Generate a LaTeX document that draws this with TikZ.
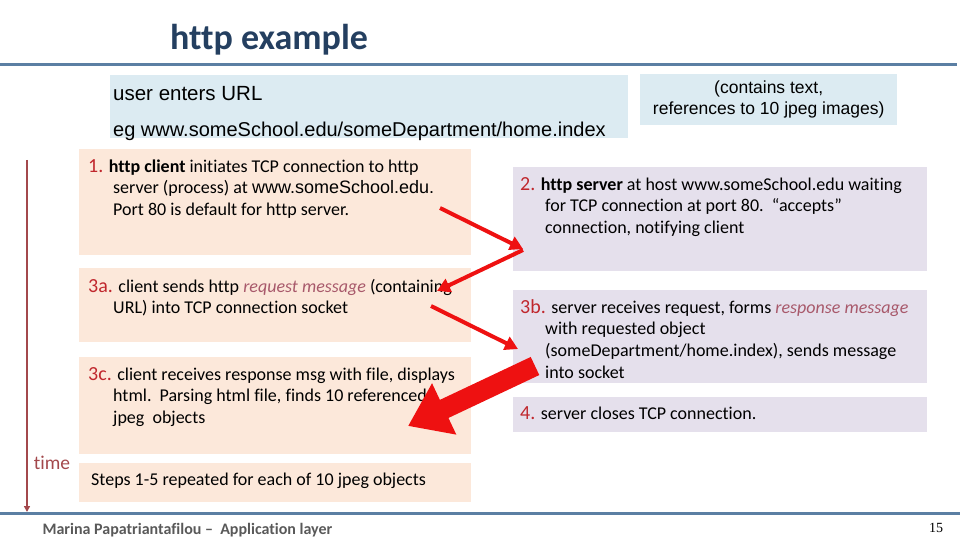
\documentclass[tikz,border=0pt]{standalone}
\usepackage{fontspec}
\setmainfont[Ligatures={NoCommon}]{Carlito}
\newfontfamily\arialfont{Liberation Sans}
\newfontfamily\timesfont{Liberation Serif}
\usetikzlibrary{arrows.meta,calc}

\definecolor{titleblue}{HTML}{243F60}
\definecolor{rulecol}{HTML}{5B7FA3}
\definecolor{urlfill}{HTML}{DCEBF2}
\definecolor{peach}{HTML}{FCE8DA}
\definecolor{lilac}{HTML}{E5E0EC}
\definecolor{numred}{HTML}{C0272D}
\definecolor{rose}{HTML}{A8596B}
\definecolor{timered}{HTML}{A3484C}
\definecolor{arrowred}{HTML}{EE1111}
\definecolor{footgray}{HTML}{595959}

\newcommand{\stepno}[1]{{\fontsize{20}{21}\selectfont\color{numred}#1}}
\newcommand{\hang}{\hspace*{25pt}}

\begin{document}
\begin{tikzpicture}[
  x=1pt, y=-1pt,
  font=\fontsize{18}{21.7}\selectfont,
  clientbox/.style={fill=peach, anchor=north west, inner sep=0pt},
  serverbox/.style={fill=lilac, anchor=north west, inner sep=0pt},
  urlbox/.style={fill=urlfill, anchor=north west, inner sep=0pt},
  boxtext/.style={anchor=base west, align=left, inner sep=0pt},
  rule/.style={draw=rulecol, line width=3pt},
  thinarrow/.style={draw=arrowred, line width=4pt, -{Triangle[length=13pt,width=14pt]}},
  bigarrow/.style={draw=arrowred, line width=20pt, -{Triangle[length=40pt,width=54pt]}},
  timeline/.style={draw=timered, line width=2.5pt, -{Triangle[length=6pt,width=6pt]}}
]
\useasboundingbox (0,0) rectangle (960,540);

\node[font=\fontsize{36}{40}\selectfont\bfseries, text=titleblue] (title) at (269,40) {http example};
\coordinate (rtl) at (0,65);
\coordinate (rtr) at (957,65);
\coordinate (rbl) at (0,513);
\coordinate (rbr) at (960,513);
\draw[rule] (rtl) -- (rtr);
\draw[rule] (rbl) -- (rbr);

\node[urlbox, minimum width=518pt, minimum height=63pt] (url) at (110,75) {};
\node[boxtext, font=\arialfont\fontsize{20.5}{22}\selectfont] (urlt1) at ($(url.north west)+(3,26)$) {user enters URL};
\node[boxtext, font=\arialfont\fontsize{20}{22}\selectfont] (urlt2) at ($(url.north west)+(3,62)$) {eg www.someSchool.edu/someDepartment/home.index};
\node[urlbox, minimum width=257pt, minimum height=51pt] (cont) at (640,74) {};
\node[align=center, font=\arialfont\fontsize{17.5}{21}\selectfont] (contt) at (cont.center) {(contains text,\\references to 10 jpeg images)};

\node[clientbox, minimum width=392pt, minimum height=106pt] (c1) at (79,149) {};
\node[clientbox, minimum width=392pt, minimum height=74pt] (c3a) at (79,268) {};
\node[clientbox, minimum width=392pt, minimum height=97pt] (c3c) at (79,357) {};
\node[clientbox, minimum width=392pt, minimum height=39pt] (c5) at (79,463) {};
\node[serverbox, minimum width=414pt, minimum height=104pt] (s2) at (513,167) {};
\node[serverbox, minimum width=414pt, minimum height=93pt] (s3b) at (513,290) {};
\node[serverbox, minimum width=414pt, minimum height=35pt] (s4) at (513,397) {};

\node[boxtext] (c1t) at ($(c1.north west)+(9,66.4)$) {\stepno{1.} \textbf{http client} initiates TCP connection to http\\
\hang server (process) at {\arialfont\fontsize{18}{21.7}\selectfont www.someSchool.edu.}\\
\hang Port 80 is default for http server.};
\node[boxtext] (s2t) at ($(s2.north west)+(7,66.4)$) {\stepno{2.} \textbf{http server} at host www.someSchool.edu waiting\\
\hang for TCP connection at port 80.~~“accepts”\\
\hang connection, notifying client};
\node[boxtext] (c3at) at ($(c3a.north west)+(9,45.7)$) {\stepno{3a.} client sends http {\itshape\color{rose}request message} (containing\\
\hang URL) into TCP connection socket};
\node[boxtext] (s3bt) at ($(s3b.north west)+(7,88.1)$) {\stepno{3b.} server receives request, forms {\itshape\color{rose}response message}\\
\hang with requested object\\
\hang (someDepartment/home.index), sends message\\
\hang into socket};
\node[boxtext] (c3ct) at ($(c3c.north west)+(9,66.4)$) {\stepno{3c.} client receives response msg with file, displays\\
\hang html.~~Parsing html file, finds 10 referenced\\
\hang jpeg~~objects};
\node[boxtext] (s4t) at ($(s4.north west)+(7,22)$) {\stepno{4.} server closes TCP connection.};
\node[boxtext] (c5t) at ($(c5.north west)+(12,22)$) {Steps 1-5 repeated for each of 10 jpeg objects};

\coordinate (ttop) at (27,160);
\coordinate (tbot) at (27,512);
\draw[timeline] (ttop) -- (tbot);
\node[text=timered, font=\fontsize{19.5}{22}\selectfont] (time) at (52,463) {time};

\coordinate (a1s) at (440,208);
\coordinate (a1e) at (523,249);
\coordinate (a2s) at (523,250);
\coordinate (a2e) at (437,291);
\coordinate (a3s) at (431,306);
\coordinate (a3e) at (518,349);
\coordinate (a4s) at (535,366);
\coordinate (a4e) at (408,426);
\draw[thinarrow] (a1s) -- (a1e);
\draw[thinarrow] (a2s) -- (a2e);
\draw[thinarrow] (a3s) -- (a3e);
\draw[bigarrow] (a4s) -- (a4e);

\node[anchor=west, text=footgray, font=\fontsize{16}{18}\selectfont\bfseries] (foot) at (39,530) {Marina Papatriantafilou –~~Application layer};
\node[font=\timesfont\fontsize{14}{16}\selectfont] (page) at (936,528) {15};
\end{tikzpicture}
\end{document}
